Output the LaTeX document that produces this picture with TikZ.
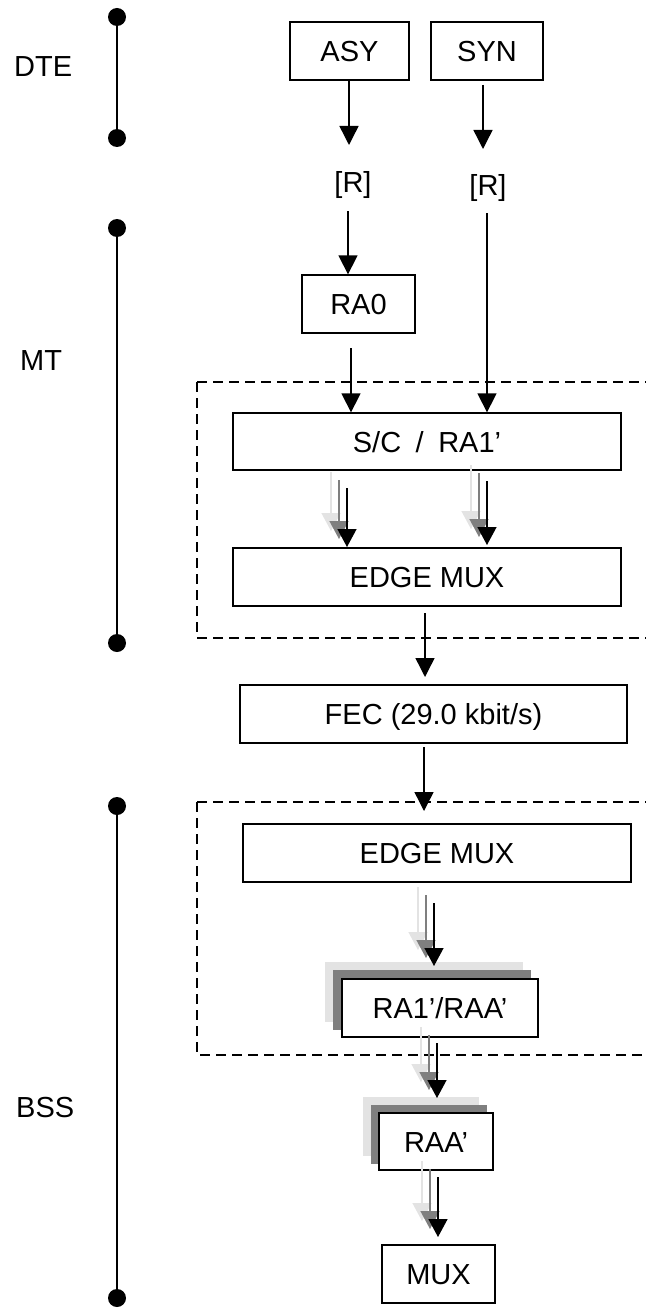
\documentclass[tikz,border=0pt]{standalone}
\usepackage{fontspec}
\setmainfont{Liberation Sans}
\usetikzlibrary{arrows.meta,backgrounds}
\definecolor{shlight}{HTML}{E3E3E3}
\definecolor{shmid}{HTML}{7F7F7F}
\newcommand\shadarr[2]{%
  \draw[sarr, draw=shlight, fill=shlight] ([shift={(-16,-16)}]#1) -- ([shift={(-16,-16)}]#2);
  \draw[sarr, draw=shmid, fill=shmid] ([shift={(-8,-8)}]#1) -- ([shift={(-8,-8)}]#2);
  \draw[sarr, draw=black, fill=black] (#1) -- (#2);}
\begin{document}
\begin{tikzpicture}[x=1pt,y=-1pt,
  box/.style={draw, line width=1.3pt, fill=white, inner sep=0pt,
    text height=21pt, text depth=0pt, font=\fontsize{29}{34}\selectfont},
  lbl/.style={inner sep=0pt, text height=21pt, text depth=0pt, font=\fontsize{29}{34}\selectfont},
  arr/.style={line width=1.4pt, -{Triangle[length=19pt,width=19pt]}},
  sarr/.style={line width=1.4pt, -{Triangle[length=18pt,width=19pt]}},
  dsh/.style={line width=1.4pt, dash pattern=on 10pt off 6pt},
  brk/.style={line width=2pt},
  dotn/.style={circle, fill=black, inner sep=0pt, minimum size=18pt}]
\useasboundingbox (0,0) rectangle (646,1308);

% side brackets
\node[dotn] (dteA) at (117,17) {};
\node[dotn] (dteB) at (117,138) {};
\draw[brk] (dteA.center) -- (dteB.center);
\node[dotn] (mtA) at (117,228) {};
\node[dotn] (mtB) at (117,643) {};
\draw[brk] (mtA.center) -- (mtB.center);
\node[dotn] (bssA) at (117,806) {};
\node[dotn] (bssB) at (117,1298) {};
\draw[brk] (bssA.center) -- (bssB.center);
\node[lbl, anchor=west] (dtel) at (14,66) {DTE};
\node[lbl, anchor=west] (mtl) at (20,360) {MT};
\node[lbl, anchor=west] (bssl) at (16,1107) {BSS};

% dashed frames
\draw[dsh] (197,382) -- (646,382);
\draw[dsh] (197,382) -- (197,638) -- (646,638);
\draw[dsh] (197,802) -- (646,802);
\draw[dsh] (197,802) -- (197,1055) -- (646,1055);

% boxes
\node[box, minimum width=119pt, minimum height=58pt] (asy) at (349.5,51) {ASY};
\node[box, minimum width=112pt, minimum height=58pt] (syn) at (487,51) {SYN};
\node[lbl] (rasy) at (353,182) {[R]};
\node[lbl] (rsyn) at (488,185) {[R]};
\node[box, minimum width=113pt, minimum height=58pt] (ra0) at (358.5,304) {RA0};
\node[box, minimum width=388pt, minimum height=57pt] (sc) at (427,441.5) {S/C\enspace/\enspace RA1’};
\node[box, minimum width=388pt, minimum height=58pt] (emuxa) at (427,577) {EDGE MUX};
\node[box, minimum width=387pt, minimum height=58pt] (fec) at (433.5,714) {FEC (29.0 kbit/s)};
\node[box, minimum width=388pt, minimum height=58pt] (emuxb) at (437,853) {EDGE MUX};
\node[box, minimum width=196pt, minimum height=58pt] (raone) at (440,1008) {RA1’/RAA’};
\node[box, minimum width=114pt, minimum height=57pt] (raa) at (436,1141.5) {RAA’};
\node[box, minimum width=113pt, minimum height=58pt] (mux) at (438.5,1274) {MUX};

% stacked shadows behind boxes
\begin{scope}[on background layer]
  \fill[shlight] ([shift={(-16,-16)}]raone.south west) rectangle ([shift={(-16,-16)}]raone.north east);
  \fill[shmid] ([shift={(-8,-8)}]raone.south west) rectangle ([shift={(-8,-8)}]raone.north east);
  \fill[shlight] ([shift={(-15,-15)}]raa.south west) rectangle ([shift={(-15,-15)}]raa.north east);
  \fill[shmid] ([shift={(-7,-7)}]raa.south west) rectangle ([shift={(-7,-7)}]raa.north east);
\end{scope}

% plain connectors
\coordinate (asyEnd) at (349,145);
\draw[arr] (asy.south -| asyEnd) -- (asyEnd);
\coordinate (synBeg) at (483,85);
\coordinate (synEnd) at (483,149);
\draw[arr] (synBeg) -- (synEnd);
\coordinate (rasyBeg) at (348,211);
\draw[arr] (rasyBeg) -- (rasyBeg |- ra0.north);
\coordinate (ra0Beg) at (351,348);
\draw[arr] (ra0Beg) -- (ra0Beg |- sc.north);
\coordinate (rsynBeg) at (487,213);
\draw[arr] (rsynBeg) -- (rsynBeg |- sc.north);
\coordinate (emuxaBeg) at (425,613);
\coordinate (emuxaEnd) at (425,677);
\draw[arr] (emuxaBeg) -- (emuxaEnd);
\coordinate (fecBeg) at (424,747);
\coordinate (fecEnd) at (424,811);
\draw[arr] (fecBeg) -- (fecEnd);

% shadowed connectors
\coordinate (scLa) at (347,488); \coordinate (scLb) at (347,547);
\shadarr{scLa}{scLb}
\coordinate (scRa) at (487,481); \coordinate (scRb) at (487,545);
\shadarr{scRa}{scRb}
\coordinate (ebA) at (434,903); \coordinate (ebB) at (434,966);
\shadarr{ebA}{ebB}
\coordinate (r1A) at (437,1043); \coordinate (r1B) at (437,1098);
\shadarr{r1A}{r1B}
\coordinate (raaA) at (438,1177); \coordinate (raaB) at (438,1237);
\shadarr{raaA}{raaB}
\end{tikzpicture}
\end{document}
